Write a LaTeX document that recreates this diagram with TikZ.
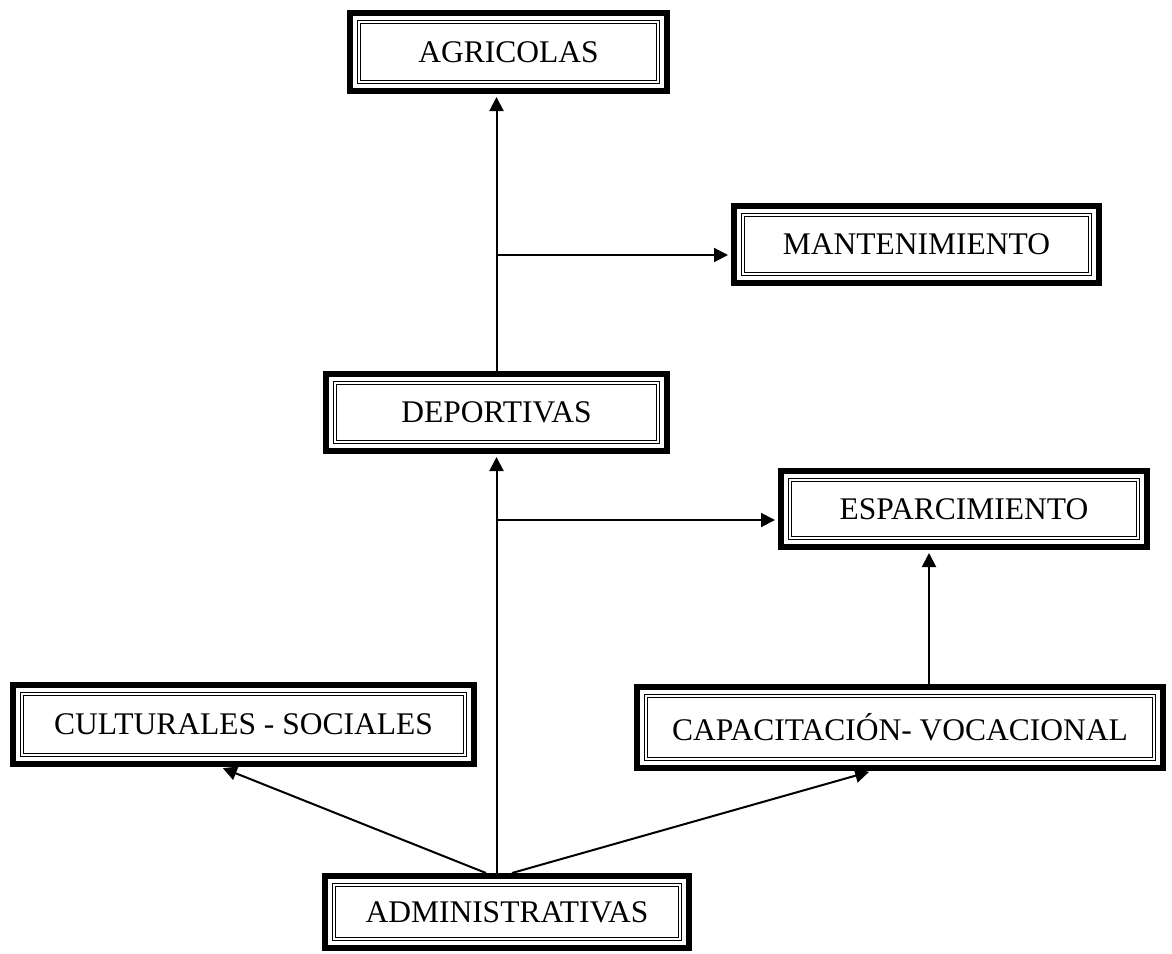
\documentclass[tikz,border=0pt]{standalone}
\usepackage{fontspec}
\setmainfont{Liberation Serif}
\usetikzlibrary{arrows.meta,positioning,calc}
\tikzset{
  areabox/.style 2 args={draw=black,line width=3pt,inner sep=0pt,fill=white,
    minimum width=#1,minimum height=#2,align=center,font=\fontsize{15.75}{18}\selectfont,
    path picture={
      \draw[line width=0.5pt] ([shift={(3.7pt,3.7pt)}]path picture bounding box.south west)
        rectangle ([shift={(-3.7pt,-3.7pt)}]path picture bounding box.north east);
      \draw[line width=0.5pt] ([shift={(5.4pt,5.4pt)}]path picture bounding box.south west)
        rectangle ([shift={(-5.4pt,-5.4pt)}]path picture bounding box.north east);
    }},
  flowarrow/.style={-{Triangle[length=7pt,width=7pt]},line width=1pt,draw=black,shorten >=1.5pt},
  flowline/.style={line width=1pt,draw=black}
}
\begin{document}
\begin{tikzpicture}[x=0.5pt,y=-0.5pt]
  \useasboundingbox (0,0) rectangle (1172,953);
  \node[areabox={158.5pt}{39pt}] (agri) at (508.5,52) {AGRICOLAS};
  \node[areabox={182.5pt}{38.5pt}] (mant) at (916.5,244.5) {MANTENIMIENTO};
  \node[areabox={170.5pt}{38.5pt}] (depo) at (496.5,412.5) {DEPORTIVAS};
  \node[areabox={183pt}{38pt}] (espa) at (964,509) {ESPARCIMIENTO};
  \node[areabox={230.5pt}{39.5pt}] (cult) at (243.5,724.5) {CULTURALES - SOCIALES};
  \node[areabox={263pt}{40.5pt}] (capa) at (900,727.5) {CAPACITACIÓN- VOCACIONAL};
  \node[areabox={182pt}{36pt}] (admi) at (507,912) {ADMINISTRATIVAS};
  \coordinate (jmant) at (496.5,255);
  \coordinate (jespa) at (496.5,520);
  \coordinate (vcapa) at (929,0);
  \coordinate (lcult) at (220,0);
  \coordinate (rcapa) at (872,0);
  \coordinate (ladmi) at (486,0);
  \coordinate (radmi) at (512,0);
  \draw[flowarrow] (depo.south |- admi.north) -- (depo.south);
  \draw[flowarrow] (depo.north) -- (depo.north |- agri.south);
  \draw[flowarrow] (jmant) -- (jmant -| mant.west);
  \draw[flowarrow] (jespa) -- (jespa -| espa.west);
  \draw[flowarrow] (capa.north -| vcapa) -- (espa.south -| vcapa);
  \draw[flowarrow] (admi.north -| ladmi) -- (cult.south -| lcult);
  \draw[flowarrow] (admi.north -| radmi) -- (capa.south -| rcapa);
\end{tikzpicture}
\end{document}
